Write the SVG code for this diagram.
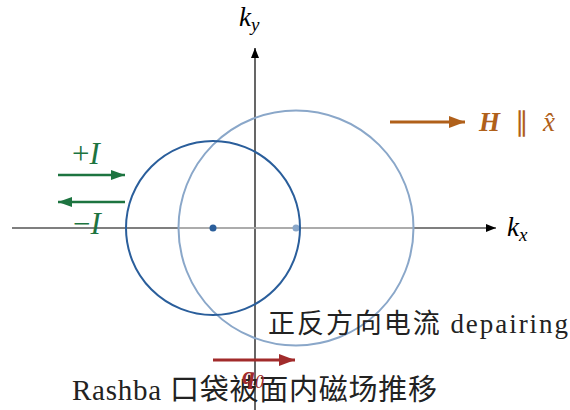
<svg xmlns="http://www.w3.org/2000/svg" width="570" height="410" viewBox="0 0 570 410">
<style>
.lbl{font-family:"Liberation Serif","DejaVu Serif",serif;font-style:italic;}
.txt{font-family:"Liberation Serif","Noto Sans CJK SC",serif;fill:#222;}
</style>
<defs>
<marker id="ak" markerWidth="10" markerHeight="8" refX="10" refY="4" orient="auto" markerUnits="userSpaceOnUse"><path d="M0,0 L10,4 L0,8 Z" fill="#000"/></marker>
<marker id="ag" markerWidth="14" markerHeight="10" refX="14" refY="5" orient="auto" markerUnits="userSpaceOnUse"><path d="M0,0 L14,5 L0,10 Z" fill="#1d7440"/></marker>
<marker id="ao" markerWidth="16" markerHeight="12" refX="16" refY="6" orient="auto" markerUnits="userSpaceOnUse"><path d="M0,0 L16,6 L0,12 Z" fill="#b0601a"/></marker>
<marker id="ar" markerWidth="16" markerHeight="12" refX="16" refY="6" orient="auto" markerUnits="userSpaceOnUse"><path d="M0,0 L16,6 L0,12 Z" fill="#a12b2b"/></marker>
</defs>
<g id="axes">
<line x1="12" y1="228" x2="496" y2="228" stroke="#000" stroke-width="1.2" marker-end="url(#ak)"/>
<line x1="255" y1="410" x2="255" y2="48" stroke="#000" stroke-width="1.2" marker-end="url(#ak)"/>
<line x1="178" y1="228" x2="413" y2="228" stroke="#b8b8b8" stroke-width="2" opacity="0.8"/>
<text class="lbl" x="239" y="26" font-size="27">k<tspan font-size="19" dy="5">y</tspan></text>
<text class="lbl" x="507" y="236" font-size="27">k<tspan font-size="19" dy="5">x</tspan></text>
</g>
<g id="pocket-shifted">
<circle cx="296" cy="228" r="117.5" fill="none" stroke="#8aa7c9" stroke-width="2"/>
<circle cx="296" cy="228" r="3.5" fill="#8aa7c9"/>
</g>
<g id="pocket-original">
<circle cx="213" cy="228" r="87" fill="none" stroke="#2a5e9b" stroke-width="2"/>
<circle cx="213" cy="228" r="3.5" fill="#2a5e9b"/>
</g>
<g id="connectors">
<line x1="390" y1="122" x2="465" y2="122" stroke="#b0601a" stroke-width="3" marker-end="url(#ao)"/>
<line x1="58" y1="175" x2="125" y2="175" stroke="#1d7440" stroke-width="2.5" marker-end="url(#ag)"/>
<line x1="125" y1="202" x2="58" y2="202" stroke="#1d7440" stroke-width="2.5" marker-end="url(#ag)"/>
<line x1="213" y1="360" x2="295" y2="360" stroke="#a12b2b" stroke-width="3" marker-end="url(#ar)"/>
</g>
<g id="field-label">
<text x="479" y="131" font-size="27" fill="#b0601a" font-family="Liberation Serif, serif" textLength="76" lengthAdjust="spacing"><tspan font-weight="bold" font-style="italic">H</tspan> ∥ <tspan font-style="italic">x̂</tspan></text>
</g>
<g id="current-labels" fill="#1d7440">
<text class="lbl" x="72" y="164" font-size="31" fill="#1d7440"><tspan font-style="normal">+</tspan>I</text>
<text class="lbl" x="73" y="234" font-size="31" fill="#1d7440"><tspan font-style="normal">−</tspan>I</text>
</g>
<g id="texts">
<text class="txt" x="268" y="333" font-size="27" textLength="300" lengthAdjust="spacing">正反方向电流 depairing</text>
<text class="txt" x="72" y="400" font-size="29" textLength="365" lengthAdjust="spacing">Rashba 口袋被面内磁场推移</text>
<text class="lbl" x="242" y="384" font-size="26" font-weight="bold" fill="#a12b2b">q<tspan font-size="18" dy="4" font-weight="normal">0</tspan></text>
</g>
</svg>
